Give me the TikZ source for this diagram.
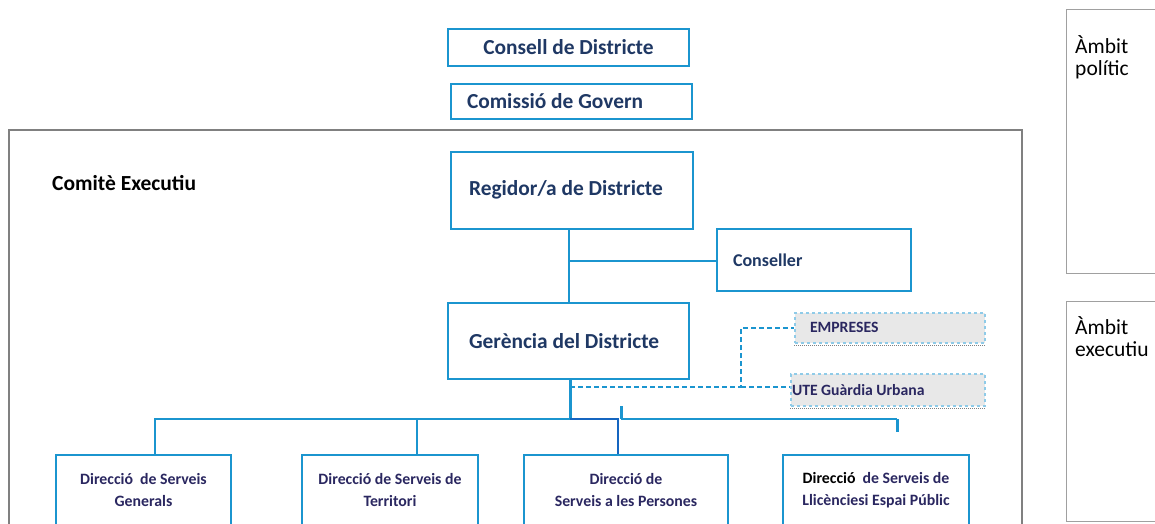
\documentclass[tikz,border=0pt]{standalone}
\usepackage{fontspec}
\setmainfont{Carlito}
\definecolor{boxblue}{HTML}{1B95CF}
\definecolor{darkblue}{HTML}{1565C0}
\definecolor{navy}{HTML}{1F3864}
\definecolor{purplenavy}{HTML}{2A2760}
\definecolor{lightdash}{HTML}{8FCBE8}
\definecolor{fillgray}{HTML}{E8E8E8}
\definecolor{framegray}{HTML}{808080}
\definecolor{thingray}{HTML}{A0A0A0}
\tikzset{
  orgbox/.style={draw=boxblue, line width=2.4pt, rectangle, inner sep=0pt, font=\bfseries, text=navy},
  lefttext/.style={align=left, execute at begin node={\spaceskip=0pt\relax}},
  bigfont/.style={font=\fontsize{21.4}{25}\selectfont\bfseries},
  dirbox/.style={orgbox, text=purplenavy, align=center, font=\fontsize{15.8}{22}\selectfont\bfseries, minimum height=71pt},
  extbox/.style={draw=lightdash, dashed, line width=1.6pt, fill=fillgray, rectangle, inner sep=0pt, font=\fontsize{15.7}{18}\selectfont\bfseries, text=purplenavy, lefttext},
  link/.style={draw=boxblue, line width=1.8pt},
  dlink/.style={draw=boxblue, line width=1.8pt, dash pattern=on 5pt off 3pt},
  ambitbox/.style={draw=thingray, line width=1pt, rectangle, inner sep=0pt},
  ambittext/.style={inner sep=0pt, anchor=base west, align=left, font=\fontsize{21.5}{22}\selectfont}
}
\begin{document}
\begin{tikzpicture}[x=1pt,y=-1pt]
\useasboundingbox (0,0) rectangle (1155,524);
% executive frame
\draw[framegray, line width=2pt] (9,540) -- (9,130) -- (1022,130) -- (1022,540);
\node[inner sep=0pt, anchor=west, font=\fontsize{21.5}{25}\selectfont\bfseries] (comite) at (52,183) {Comitè Executiu};
% top boxes
\node[orgbox, bigfont, minimum width=241pt, minimum height=37pt] (consell) at (568.5,47.5) {Consell de Districte};
\node[orgbox, bigfont, lefttext, minimum width=241pt, minimum height=35pt, text width=209pt] (comissio) at (571.5,101.5) {\mbox{Comissió de Govern}};
\node[orgbox, bigfont, lefttext, minimum width=242pt, minimum height=77pt, text width=206pt] (regidor) at (572,190.5) {\mbox{\raisebox{5pt}{Regidor/a de Districte}}};
\node[orgbox, lefttext, minimum width=194pt, minimum height=62pt, text width=162pt, font=\fontsize{18}{22}\selectfont\bfseries] (conseller) at (814,260) {\raisebox{-3pt}{Conseller}};
\node[orgbox, bigfont, lefttext, minimum width=241pt, minimum height=76pt, text width=199pt] (gerencia) at (568.5,341) {\mbox{Gerència del Districte}};
% external boxes
\node[extbox, minimum width=190pt, minimum height=30pt, text width=160pt] (empreses) at (890,328) {\raisebox{2pt}{EMPRESES}};
\node[extbox, minimum width=194pt, minimum height=32pt, text width=192pt] (ute) at (888,390) {\mbox{UTE Guàrdia Urbana}};
\draw[densely dotted, gray, line width=1pt] ([yshift=-2pt]empreses.south west) -- ([yshift=-2pt]empreses.south east);
\draw[densely dotted, gray, line width=1pt] ([yshift=-2pt]ute.south west) -- ([yshift=-2pt]ute.south east);
% direction boxes
\node[dirbox, minimum width=175pt] (d1) at (143.5,490.5) {Direcció \ de Serveis\\Generals};
\node[dirbox, minimum width=176pt] (d2) at (390,490.5) {Direcció de Serveis de\\Territori};
\node[dirbox, minimum width=204pt] (d3) at (626,490.5) {Direcció de\\Serveis a les Persones};
\node[dirbox, minimum width=186pt] (d4) at (876,490.5) {\textcolor{black}{Direcció} \ de Serveis de\\Llicènciesi Espai Públic};
% ambit boxes
\node[ambitbox, minimum width=94pt, minimum height=263pt] (ambit1) at (1113,141.5) {};
\node[ambitbox, minimum width=94pt, minimum height=220pt] (ambit2) at (1113,411) {};
\node[ambittext] (ambit1txt) at (1075,76) {Àmbit\\polític};
\node[ambittext] (ambit2txt) at (1075,356) {Àmbit\\executiu};
% coordinates for connectors
\coordinate (rg) at (569,229);
\coordinate (cj) at (569,261);
\coordinate (gt) at (569,303);
\coordinate (gb) at (570,379);
\coordinate (bus) at (570,419);
\coordinate (b1) at (155,419);
\coordinate (b2) at (417,419);
\coordinate (b3) at (618,419);
\coordinate (dsplit) at (741,387);
\coordinate (dstart) at (570,387);
\coordinate (tick) at (621,406);
\coordinate (tickb) at (621,419);
\coordinate (rend) at (897,419);
\coordinate (rendb) at (897,432);
% regidor - gerencia
\draw[link] (rg) -- (gt);
\draw[link] (cj) -- (conseller.west |- cj);
% gerencia down to bus
\draw[link, line width=3pt] (gb) -- (bus);
\draw[link] (b1 |- d1.north) -- (b1) -- (bus);
\draw[link] (b2) -- (b2 |- d2.north);
\draw[draw=darkblue, line width=1.8pt] (bus) -- (b3) -- (b3 |- d3.north);
\draw[link] (tickb) -- (rend);
\draw[link, line width=3pt] (tick) -- (tickb);
\draw[link, line width=3pt] (rend) -- (rendb);
% dashed connectors
\draw[dlink] (dstart) -- (dsplit) |- (empreses.west);
\draw[dlink] (dsplit) -- (ute.west |- dsplit);
\end{tikzpicture}
\end{document}
